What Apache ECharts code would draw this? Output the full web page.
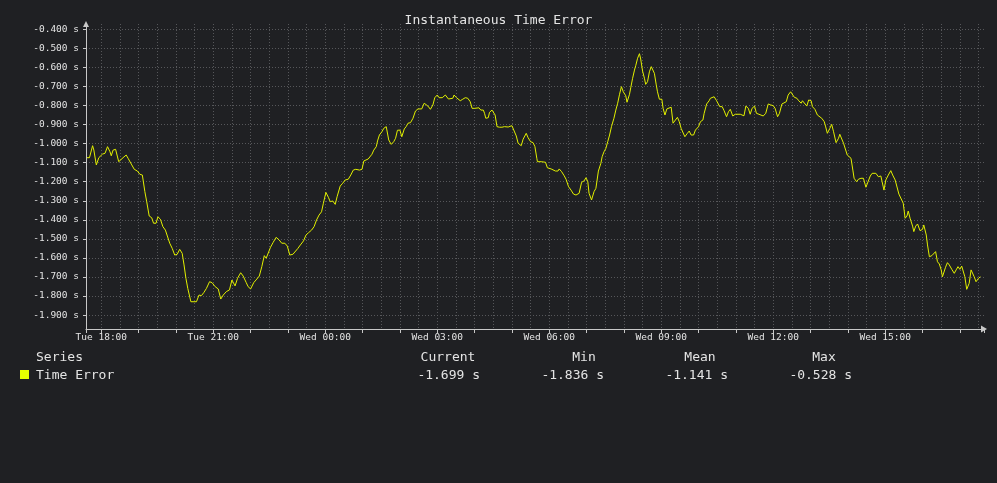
<!DOCTYPE html>
<html>
<head>
<meta charset="utf-8">
<script src="https://cdn.jsdelivr.net/npm/echarts@6.0.0/dist/echarts.min.js"></script>
<style>
  html, body { margin: 0; padding: 0; background: #1f2023; }
  #chart { width: 997px; height: 483px; }
</style>
</head>
<body>
<div id="chart"></div>
<script>
// ---- data ----
const chartTitle = 'Instantaneous Time Error';
const seriesName = 'Time Error';
const dayNames = ['Tue', 'Wed'];
const startHour = 17 + 35 / 60;       // Tue 17:35, hours since Tue 00:00
const axisStartHour = 17.5902;        // left edge of the plot
const axisEndHour = 41.6466;          // right edge of the plot (Wed 17:38)
const yMin = -1.9732;
const yMax = -0.3722;

// minutes since Tue 17:35
const timeMinutes = [
  2,6,11,13,17,21,27,31,35,39,
  41,44,48,53,56,60,65,68,74,78,
  83,87,91,95,98,102,106,109,113,116,
  120,124,128,131,135,139,143,147,151,155,
  158,161,164,169,172,178,182,186,190,194,
  199,203,208,213,217,221,226,231,235,237,
  240,244,249,253,258,261,265,268,270,275,
  279,283,287,290,293,297,301,306,309,311,
  315,320,324,328,333,336,341,345,350,354,
  358,363,367,371,375,379,382,386,390,393,
  397,401,404,409,413,417,422,426,430,434,
  440,444,447,450,454,457,460,463,467,469,
  472,476,479,483,484,487,491,495,498,501,
  505,508,512,515,518,522,526,530,534,537,
  540,544,547,550,554,558,561,565,568,573,
  575,578,581,583,586,590,592,596,599,602,
  606,610,614,618,621,625,628,632,635,639,
  641,643,647,649,653,656,658,661,665,669,
  673,675,679,681,685,688,692,695,700,703,
  708,711,715,719,722,725,726,732,735,739,
  742,745,748,751,755,759,761,765,769,772,
  776,780,784,788,791,793,797,801,804,807,
  809,813,817,820,824,828,830,833,836,839,
  842,845,849,852,855,858,861,864,868,870,
  874,876,879,882,884,887,890,892,895,898,
  900,903,906,909,911,914,917,919,922,926,
  928,931,934,937,941,944,947,951,954,957,
  960,963,967,970,973,977,980,985,988,992,
  994,998,1002,1004,1007,1010,1014,1017,1019,1023,
  1026,1030,1033,1036,1040,1044,1047,1052,1055,1058,
  1061,1065,1068,1071,1075,1078,1082,1085,1089,1093,
  1097,1101,1105,1108,1112,1115,1119,1122,1126,1129,
  1133,1136,1139,1143,1146,1150,1152,1155,1159,1162,
  1166,1168,1172,1176,1179,1183,1187,1189,1192,1196,
  1199,1202,1206,1210,1212,1215,1218,1220,1224,1227,
  1230,1233,1235,1239,1242,1246,1250,1254,1257,1261,
  1264,1267,1270,1274,1278,1280,1283,1286,1290,1294,
  1297,1301,1303,1307,1310,1314,1317,1320,1322,1325,
  1329,1331,1334,1337,1341,1345,1347,1351,1353,1356,
  1360,1363,1366,1369,1372,1375,1377,1379,1382,1385,
  1388,1392,1396,1399,1402,1405,1408,1410,1413,1416,
  1420,1423,1426,1428,1431,1435,1438
];

// time error, seconds
const timeError = [
  -1.074,-1.074,-1.011,-1.034,-1.112,-1.074,-1.055,-1.051,-1.016,-1.043,
  -1.064,-1.034,-1.030,-1.095,-1.091,-1.074,-1.060,-1.077,-1.112,-1.135,
  -1.144,-1.161,-1.165,-1.252,-1.305,-1.380,-1.389,-1.418,-1.418,-1.384,
  -1.397,-1.436,-1.454,-1.462,-1.523,-1.550,-1.585,-1.581,-1.555,-1.576,
  -1.637,-1.707,-1.760,-1.830,-1.836,-1.830,-1.795,-1.798,-1.781,-1.760,
  -1.725,-1.730,-1.751,-1.763,-1.816,-1.795,-1.777,-1.768,-1.716,-1.716,
  -1.747,-1.707,-1.678,-1.695,-1.730,-1.751,-1.763,-1.760,-1.730,-1.711,
  -1.695,-1.646,-1.588,-1.602,-1.602,-1.544,-1.520,-1.492,-1.489,-1.506,
  -1.523,-1.523,-1.538,-1.585,-1.581,-1.590,-1.550,-1.532,-1.511,-1.480,
  -1.468,-1.454,-1.436,-1.401,-1.375,-1.358,-1.313,-1.256,-1.282,-1.305,
  -1.301,-1.319,-1.279,-1.223,-1.208,-1.191,-1.187,-1.165,-1.139,-1.135,
  -1.139,-1.135,-1.091,-1.086,-1.081,-1.081,-1.056,-1.034,-1.016,-0.986,
  -0.955,-0.938,-0.920,-0.911,-0.920,-0.981,-1.004,-0.990,-0.972,-0.930,
  -0.929,-0.964,-0.923,-0.911,-0.893,-0.890,-0.867,-0.829,-0.818,-0.812,
  -0.818,-0.788,-0.783,-0.803,-0.820,-0.797,-0.759,-0.745,-0.759,-0.759,
  -0.754,-0.745,-0.749,-0.766,-0.759,-0.762,-0.745,-0.759,-0.757,-0.775,
  -0.767,-0.759,-0.762,-0.780,-0.815,-0.815,-0.824,-0.812,-0.824,-0.824,
  -0.841,-0.867,-0.864,-0.836,-0.824,-0.824,-0.850,-0.911,-0.914,-0.914,
  -0.911,-0.920,-0.913,-0.917,-0.906,-0.911,-0.960,-0.998,-1.011,-0.977,
  -0.946,-0.969,-0.990,-0.995,-1.016,-1.077,-1.095,-1.095,-1.103,-1.098,
  -1.127,-1.121,-1.133,-1.139,-1.144,-1.144,-1.133,-1.148,-1.169,-1.187,
  -1.226,-1.244,-1.265,-1.270,-1.279,-1.261,-1.203,-1.196,-1.179,-1.200,
  -1.261,-1.296,-1.252,-1.235,-1.144,-1.103,-1.069,-1.043,-1.025,-0.990,
  -0.955,-0.911,-0.867,-0.824,-0.788,-0.741,-0.701,-0.728,-0.749,-0.783,
  -0.741,-0.707,-0.657,-0.614,-0.591,-0.552,-0.528,-0.556,-0.619,-0.657,
  -0.689,-0.675,-0.623,-0.596,-0.587,-0.631,-0.692,-0.728,-0.767,-0.767,
  -0.815,-0.850,-0.818,-0.809,-0.809,-0.893,-0.893,-0.862,-0.885,-0.920,
  -0.925,-0.964,-0.946,-0.934,-0.955,-0.955,-0.929,-0.911,-0.885,-0.876,
  -0.841,-0.792,-0.775,-0.762,-0.771,-0.754,-0.775,-0.771,-0.806,-0.806,
  -0.827,-0.859,-0.833,-0.820,-0.855,-0.846,-0.854,-0.846,-0.855,-0.854,
  -0.803,-0.815,-0.846,-0.815,-0.803,-0.841,-0.846,-0.836,-0.855,-0.841,
  -0.792,-0.797,-0.801,-0.815,-0.859,-0.841,-0.792,-0.783,-0.780,-0.745,
  -0.728,-0.736,-0.757,-0.762,-0.775,-0.788,-0.775,-0.780,-0.803,-0.771,
  -0.775,-0.806,-0.820,-0.850,-0.859,-0.867,-0.885,-0.908,-0.946,-0.920,
  -0.899,-0.938,-0.995,-0.972,-0.951,-0.951,-0.998,-1.004,-1.060,-1.060,
  -1.077,-1.139,-1.182,-1.200,-1.187,-1.182,-1.182,-1.229,-1.226,-1.170,
  -1.156,-1.161,-1.156,-1.174,-1.170,-1.200,-1.244,-1.191,-1.165,-1.142,
  -1.165,-1.191,-1.200,-1.265,-1.275,-1.313,-1.392,-1.380,-1.354,-1.392,
  -1.433,-1.462,-1.433,-1.422,-1.457,-1.450,-1.427,-1.480,-1.532,-1.594,
  -1.588,-1.585,-1.567,-1.620,-1.632,-1.663,-1.699,-1.695,-1.649,-1.625,
  -1.637,-1.660,-1.681,-1.663,-1.646,-1.660,-1.643,-1.646,-1.699,-1.765,
  -1.733,-1.663,-1.663,-1.699,-1.725,-1.707,-1.699
];

const legendHeader = 'Series';
const statHeaders = ['Current', 'Min', 'Mean', 'Max'];
const statValues = ['-1.699 s', '-1.836 s', '-1.141 s', '-0.528 s'];

// ---- chart ----
const FONT = '"DejaVu Sans Mono", "Liberation Mono", monospace';
const lineColor = '#e2f000';
const gridColor = '#56575a';
const axisColor = '#c8c8c8';
const textColor = '#e4e4e4';

const n = Math.min(timeMinutes.length, timeError.length);
const seriesData = [];
for (let i = 0; i < n; i++) {
  seriesData.push([startHour + timeMinutes[i] / 60, timeError[i]]);
}

function pad(v) { return (v < 10 ? '0' : '') + v; }
function fmtTime(v) {
  const day = Math.floor(v / 24 + 1e-9);
  const mins = Math.round((v - day * 24) * 60);
  return dayNames[day] + ' ' + pad(Math.floor(mins / 60)) + ':' + pad(mins % 60);
}

const chart = echarts.init(document.getElementById('chart'));

const headerX = [448, 584, 700, 824];
const valueRight = [480, 604, 728, 852];
const rowY = [357.5, 375.5];
const graphics = [
  { type: 'text', x: 36, y: rowY[0], style: { text: legendHeader, fill: textColor, font: '13px ' + FONT, textAlign: 'left', textVerticalAlign: 'middle' } },
  { type: 'rect', shape: { x: 20, y: 370, width: 9, height: 9 }, style: { fill: '#e6ff00' } },
  { type: 'text', x: 36, y: rowY[1], style: { text: seriesName, fill: textColor, font: '13px ' + FONT, textAlign: 'left', textVerticalAlign: 'middle' } }
];
statHeaders.forEach((h, i) => {
  graphics.push({ type: 'text', x: headerX[i], y: rowY[0], style: { text: h, fill: textColor, font: '13px ' + FONT, textAlign: 'center', textVerticalAlign: 'middle' } });
  graphics.push({ type: 'text', x: valueRight[i], y: rowY[1], style: { text: statValues[i], fill: textColor, font: '13px ' + FONT, textAlign: 'right', textVerticalAlign: 'middle' } });
});

chart.setOption({
  backgroundColor: '#1f2023',
  animation: false,
  title: {
    text: chartTitle,
    left: 'center',
    top: 9,
    textStyle: { color: textColor, fontFamily: FONT, fontSize: 13, fontWeight: 'normal' }
  },
  grid: { left: 86, right: 13, top: 24, bottom: 154, containLabel: false },
  xAxis: [
    {
      type: 'value',
      min: axisStartHour,
      max: axisEndHour,
      splitNumber: 8,
      position: 'bottom',
      axisLine: { show: true, onZero: false, lineStyle: { color: axisColor, width: 1 }, symbol: ['none', 'triangle'], symbolSize: [7, 6] },
      axisTick: { show: true, length: 4, inside: false, lineStyle: { color: axisColor } },
      minorTick: { show: true, splitNumber: 3, length: 4, lineStyle: { color: axisColor } },
      axisLabel: {
        show: true, color: textColor, fontFamily: FONT, fontSize: 9.5, margin: 4,
        showMinLabel: false, showMaxLabel: false,
        formatter: fmtTime
      },
      splitLine: { show: false },
      minorSplitLine: { show: false }
    },
    {
      type: 'value',
      min: axisStartHour,
      max: axisEndHour,
      splitNumber: 48,
      position: 'bottom',
      axisLine: { show: false, onZero: false },
      axisTick: { show: false },
      axisLabel: { show: false },
      splitLine: { show: true, showMinLine: false, showMaxLine: false, lineStyle: { color: gridColor, type: [1, 2], width: 1 } }
    }
  ],
  yAxis: {
    type: 'value',
    min: yMin,
    max: yMax,
    splitNumber: 16,
    axisLine: { show: true, lineStyle: { color: axisColor, width: 1 }, symbol: ['none', 'triangle'], symbolSize: [6, 6] },
    axisTick: { show: true, length: 3, lineStyle: { color: axisColor } },
    axisLabel: {
      color: textColor, fontFamily: FONT, fontSize: 9.5, margin: 7,
      showMinLabel: false, showMaxLabel: false,
      formatter: v => v.toFixed(3) + ' s'
    },
    splitLine: { show: true, showMinLine: false, showMaxLine: false, lineStyle: { color: gridColor, type: [1, 2], width: 1 } }
  },
  series: [{
    name: seriesName,
    type: 'line',
    xAxisIndex: 0,
    data: seriesData,
    showSymbol: false,
    symbol: 'none',
    smooth: false,
    lineStyle: { color: lineColor, width: 1 },
    z: 5
  }],
  graphic: graphics
});
</script>
</body>
</html>
